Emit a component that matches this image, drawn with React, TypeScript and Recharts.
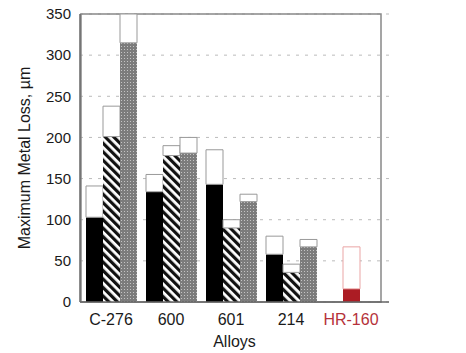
import React from 'react';
import { BarChart, Bar, XAxis, YAxis, CartesianGrid, ReferenceArea } from 'recharts';

const categories = ['C-276', '600', '601', '214', 'HR-160'];
const blackFill = [103, 134, 143, 58, null];
const blackTotal = [141, 155, 185, 80, null];
const hatchFill = [201, 178, 90, 36, null];
const hatchTotal = [238, 190, 100, 46, null];
const grayFill = [315, 181, 122, 67, null];
const grayTotal = [350, 200, 131, 76, null];
const redFill = [null, null, null, null, 16];
const redTotal = [null, null, null, null, 67];
const yTicks = [0, 50, 100, 150, 200, 250, 300, 350];

const diff = (t: number | null, f: number | null) => (t == null || f == null ? null : t - f);

const data = categories.map((c, i) => ({
  name: c,
  blackFill: blackFill[i],
  blackTop: diff(blackTotal[i], blackFill[i]),
  hatchFill: hatchFill[i],
  hatchTop: diff(hatchTotal[i], hatchFill[i]),
  redFill: redFill[i],
  redTop: diff(redTotal[i], redFill[i]),
  grayFill: grayFill[i],
  grayTop: diff(grayTotal[i], grayFill[i]),
}));

const FONT = '"Liberation Sans", Arial, sans-serif';

const XTick = (props: any) => {
  const { x, y, payload } = props;
  const red = payload.value === 'HR-160';
  return (
    <text x={x} y={y} dy="0.71em" textAnchor="middle" fontFamily={FONT} fontSize={16}
      fill={red ? '#b5323a' : '#1a1a1a'}>
      {payload.value}
    </text>
  );
};

export default function App() {
  return (
    <div style={{ position: 'absolute', left: 0, top: 0, width: 466, height: 353, background: '#fff' }}>
      <svg width={0} height={0} style={{ position: 'absolute' }}>
        <defs>
          <pattern id="hatch" patternUnits="userSpaceOnUse" width={6} height={6} patternTransform="rotate(-45)">
            <rect x={0} y={0} width={6} height={6} fill="#fff" />
            <rect x={0} y={0} width={3.2} height={6} fill="#111" />
          </pattern>
          <pattern id="dots" patternUnits="userSpaceOnUse" width={3} height={3}>
            <rect x={0} y={0} width={3} height={3} fill="#7c7c7c" />
            <rect x={1} y={1} width={1} height={1} fill="#c4c4c4" />
          </pattern>
        </defs>
      </svg>
      <BarChart width={466} height={353} data={data}
        margin={{ top: 14, right: 77, bottom: 11, left: 0 }}
        barGap={0} barSize={17}>
        <CartesianGrid vertical={false} stroke="#bbb" strokeDasharray="3 6" />
        <XAxis dataKey="name" height={40} tickLine={false} tickSize={0} tickMargin={12}
          axisLine={{ stroke: '#666', strokeWidth: 1.5 }}
          padding={{ left: 1, right: 8 }} tick={<XTick />} interval={0}
          label={{ value: 'Alloys', position: 'insideBottom', offset: -5, fontSize: 16, fontFamily: FONT, fill: '#1a1a1a' }} />
        <YAxis width={80} domain={[0, 350]} ticks={yTicks} allowDataOverflow tickLine={false} tickSize={0} tickMargin={9}
          axisLine={{ stroke: '#666', strokeWidth: 1.5 }}
          tick={{ fontSize: 15, fontFamily: FONT, fill: '#1a1a1a' }}
          label={{ value: 'Maximum Metal Loss, µm', angle: -90, position: 'insideLeft', offset: 24,
            style: { textAnchor: 'middle', fontSize: 16, fontFamily: FONT, fill: '#1a1a1a' } }} />
        <Bar dataKey="blackFill" stackId="a" fill="#000" isAnimationActive={false} />
        <Bar dataKey="blackTop" stackId="a" fill="#fff" stroke="#999" strokeWidth={1} isAnimationActive={false} />
        <Bar dataKey="hatchFill" stackId="b" fill="url(#hatch)" isAnimationActive={false} />
        <Bar dataKey="hatchTop" stackId="b" fill="#fff" stroke="#999" strokeWidth={1} isAnimationActive={false} />
        <Bar dataKey="redFill" stackId="b" fill="#ac1c24" isAnimationActive={false} />
        <Bar dataKey="redTop" stackId="b" fill="#fff" stroke="#eaa5a5" strokeWidth={1} isAnimationActive={false} />
        <Bar dataKey="grayFill" stackId="c" fill="url(#dots)" isAnimationActive={false} />
        <Bar dataKey="grayTop" stackId="c" fill="#fff" stroke="#999" strokeWidth={1} isAnimationActive={false} />
        <ReferenceArea y1={0} y2={350} fill="none" fillOpacity={0} stroke="#888" strokeWidth={1.5} ifOverflow="visible" />
      </BarChart>
    </div>
  );
}
